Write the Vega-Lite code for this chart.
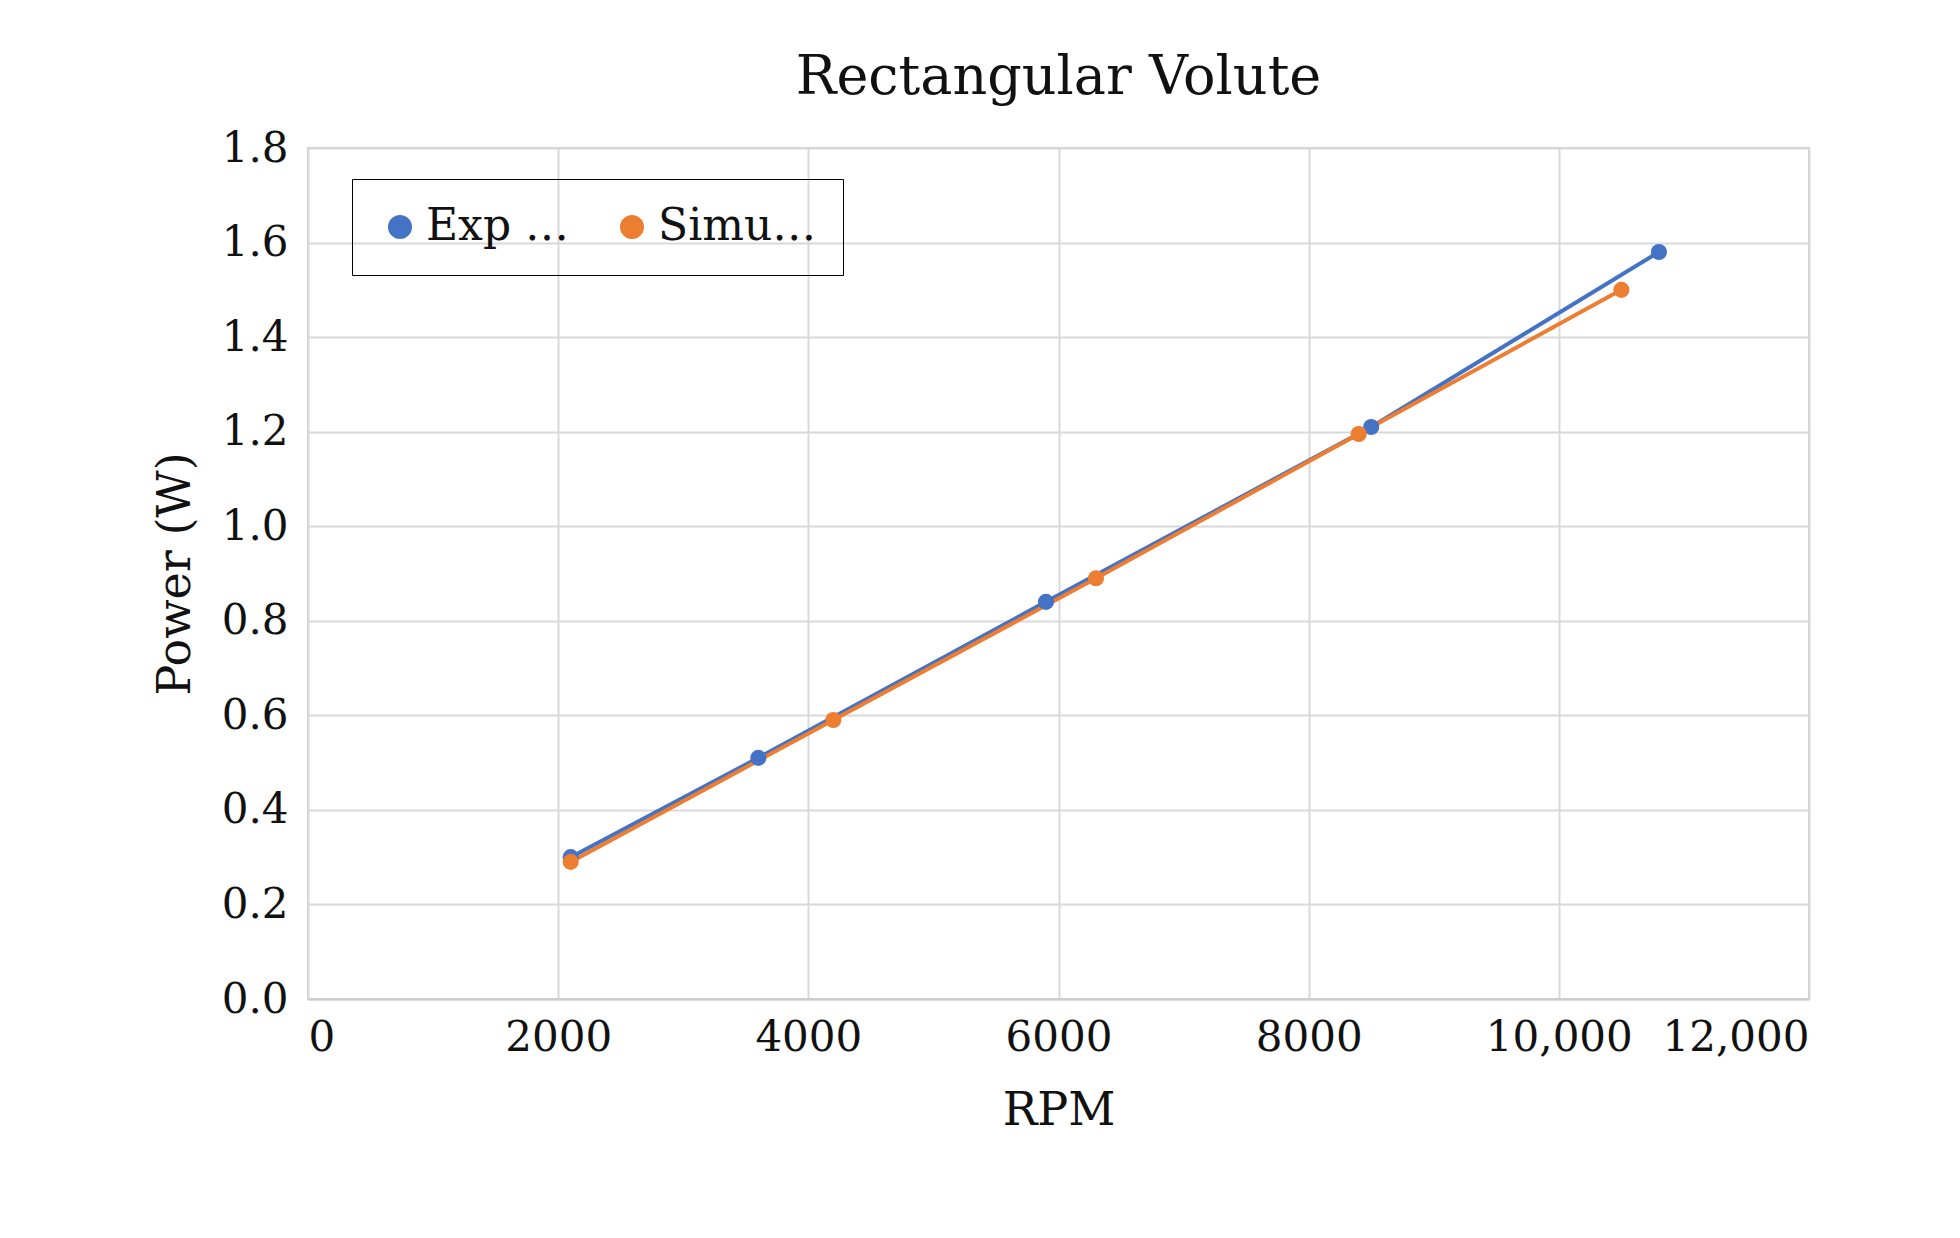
{
"$schema":"https://vega.github.io/schema/vega-lite/v6.json",
"width":1501,"height":851,
"autosize":{"type":"none"},
"padding":{"left":308,"top":148,"right":151,"bottom":239},
"background":"white",
"title":{"text":"Rectangular Volute","font":"DejaVu Serif","fontSize":54,"fontWeight":"normal","color":"#111","offset":22},
"data":{"values":[
{"rpm":2100,"p":0.30,"s":"Exp data"},{"rpm":3600,"p":0.51,"s":"Exp data"},{"rpm":5900,"p":0.84,"s":"Exp data"},{"rpm":8500,"p":1.21,"s":"Exp data"},{"rpm":10800,"p":1.58,"s":"Exp data"},
{"rpm":2100,"p":0.29,"s":"Simulation"},{"rpm":4200,"p":0.59,"s":"Simulation"},{"rpm":6300,"p":0.89,"s":"Simulation"},{"rpm":8400,"p":1.195,"s":"Simulation"},{"rpm":10500,"p":1.50,"s":"Simulation"}
]},
"mark":{"type":"line","point":{"size":260,"filled":true,"opacity":1},"strokeWidth":4},
"encoding":{
"x":{"field":"rpm","type":"quantitative","scale":{"domain":[0,12000]},
"axis":{"values":[0,2000,4000,6000,8000,10000,12000],"labelExpr":"datum.value>=10000?format(datum.value,','):datum.value","title":"RPM","titlePadding":30,"labelPadding":18,"ticks":false,"domainColor":"#ccc","domainWidth":2}},
"y":{"field":"p","type":"quantitative","scale":{"domain":[0,1.8]},
"axis":{"values":[0,0.2,0.4,0.6,0.8,1,1.2,1.4,1.6,1.8],"title":"Power (W)","titlePadding":22,"labelPadding":20,"ticks":false,"domain":false}},
"color":{"field":"s","type":"nominal","scale":{"domain":["Exp data","Simulation"],"range":["#4472C4","#ED7D31"]},
"legend":{"title":null,"orient":"none","legendX":44,"legendY":31,"direction":"horizontal","strokeColor":"black","padding":26,"columnPadding":40,"labelFontSize":44,"labelFont":"DejaVu Serif","labelColor":"#111","symbolSize":400,"symbolStrokeWidth":4,"symbolType":"circle"}}
},
"config":{"view":{"stroke":"#ccc","strokeWidth":2},
"axis":{"labelFont":"DejaVu Serif","titleFont":"DejaVu Serif","labelFontSize":42,"titleFontSize":46,"titleFontWeight":"normal","labelColor":"#111","titleColor":"#111","gridColor":"#d9d9d9","gridWidth":2}}
}
